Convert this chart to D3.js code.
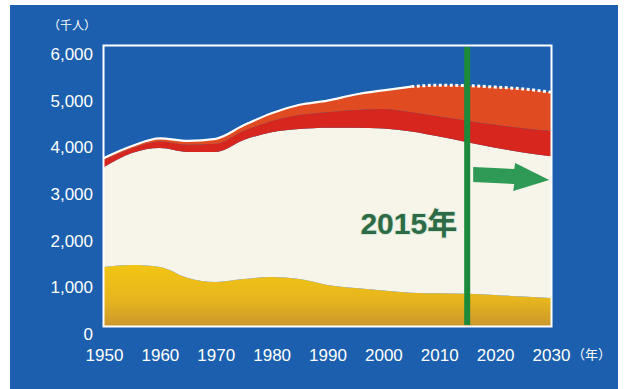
<!DOCTYPE html>
<html>
<head>
<meta charset="utf-8">
<script src="https://cdn.jsdelivr.net/npm/d3@7"></script>
<style>
  html, body { margin: 0; padding: 0; background: #ffffff; }
  svg { display: block; }
</style>
</head>
<body>
<svg id="chart" width="624" height="389"></svg>
<script>
// Population by age group (thousands), census + projection
const years = [1950, 1955, 1960, 1965, 1970, 1975, 1980, 1985, 1990, 1995, 2000, 2005, 2010, 2015, 2020, 2025, 2030];
const age0to14  = [1265, 1305, 1265, 1030, 945, 1005, 1050, 1005, 880, 815, 760, 715, 700, 690, 665, 630, 600];
const age15to64 = [2140, 2400, 2550, 2700, 2785, 2980, 3100, 3215, 3370, 3435, 3470, 3455, 3360, 3250, 3155, 3090, 3040];
const age65to74 = [150, 100, 140, 155, 175, 195, 240, 300, 330, 380, 420, 410, 430, 460, 490, 520, 540];
const age75plus = [45, 52, 65, 80, 105, 120, 170, 220, 250, 330, 400, 550, 670, 750, 810, 840, 830];
const projectionFrom = 2005;
const yTicks = [0, 1000, 2000, 3000, 4000, 5000, 6000];
const xTicks = [1950, 1960, 1970, 1980, 1990, 2000, 2010, 2020, 2030];
const markerYear = 2015;
const markerLabel = "2015年";
const yUnit = "（千人）";
const xUnit = "（年）";

const svg = d3.select("#chart");
const plot = { left: 104, right: 551, top: 46, bottom: 326 };

const x = d3.scaleLinear().domain([1950, 2030]).range([plot.left, plot.right]);
const y = d3.scaleLinear().domain([0, 6000]).range([plot.bottom, plot.top]);

// background panel
svg.append("rect").attr("x", 10).attr("y", 5).attr("width", 608).attr("height", 384).attr("fill", "#1b5fae");

const defs = svg.append("defs");
const gy = defs.append("linearGradient").attr("id", "yellowGrad").attr("x1", 0).attr("y1", 0).attr("x2", 0).attr("y2", 1);
gy.append("stop").attr("offset", "0%").attr("stop-color", "#f2c514");
gy.append("stop").attr("offset", "55%").attr("stop-color", "#e8b61d");
gy.append("stop").attr("offset", "100%").attr("stop-color", "#cc982d");
defs.append("clipPath").attr("id", "plotClip").append("rect")
  .attr("x", plot.left).attr("y", plot.top).attr("width", plot.right - plot.left).attr("height", plot.bottom - plot.top);

const rows = years.map((yr, i) => ({
  year: yr, a: age0to14[i], b: age15to64[i], c: age65to74[i], d: age75plus[i]
}));
const stack = d3.stack().keys(["a", "b", "c", "d"]);
const series = stack(rows);
const fills = { a: "url(#yellowGrad)", b: "#f7f4ea", c: "#d6261e", d: "#e04b22" };

const area = d3.area()
  .x(d => x(d.data.year))
  .y0(d => y(d[0]))
  .y1(d => y(d[1]))
  .curve(d3.curveMonotoneX);

const g = svg.append("g").attr("clip-path", "url(#plotClip)");
g.selectAll("path.band").data(series).join("path")
  .attr("class", "band")
  .attr("d", area)
  .attr("fill", s => fills[s.key]);

// outline along the total: solid for census years, dotted for projection
const totals = rows.map(r => ({ year: r.year, v: r.a + r.b + r.c + r.d }));
const line = d3.line().x(d => x(d.year)).y(d => y(d.v)).curve(d3.curveMonotoneX);
g.append("path")
  .attr("d", line(totals.filter(d => d.year <= projectionFrom)))
  .attr("fill", "none").attr("stroke", "#ffffff").attr("stroke-width", 2.2);
g.append("path")
  .attr("d", line(totals.filter(d => d.year >= projectionFrom)))
  .attr("fill", "none").attr("stroke", "#ffffff").attr("stroke-width", 3)
  .attr("stroke-dasharray", "3,2.5");

// plot frame
svg.append("rect")
  .attr("x", plot.left - 0.5).attr("y", plot.top - 0.5)
  .attr("width", plot.right - plot.left + 1).attr("height", plot.bottom - plot.top + 1)
  .attr("fill", "none").attr("stroke", "#ffffff").attr("stroke-width", 2);

// marker year line
svg.append("line")
  .attr("x1", x(markerYear)).attr("x2", x(markerYear))
  .attr("y1", plot.top + 1).attr("y2", plot.bottom - 1)
  .attr("stroke", "#1d8a3b").attr("stroke-width", 6);

// arrow pointing into the projection period
const ax = x(markerYear);
const arrowPts = [
  [ax + 6, 167], [ax + 47, 169], [ax + 48, 163], [ax + 82, 180],
  [ax + 46, 191], [ax + 47, 184], [ax + 6, 182]
];
svg.append("polygon")
  .attr("points", arrowPts.map(p => p.join(",")).join(" "))
  .attr("fill", "#2f9a55");

svg.append("text")
  .attr("x", ax - 10).attr("y", 234)
  .attr("text-anchor", "end")
  .attr("font-family", "'Liberation Sans', Arial, 'Noto Sans CJK JP', sans-serif")
  .attr("font-weight", "bold").attr("font-size", 30)
  .attr("fill", "#2d6b47").attr("stroke", "#d4e4cf").attr("stroke-width", 1.6)
  .attr("paint-order", "stroke")
  .text(markerLabel);

// axes
const font = "'Liberation Sans', Arial, sans-serif";
const yAxis = svg.append("g")
  .attr("transform", `translate(${plot.left},8)`)
  .call(d3.axisLeft(y).tickValues(yTicks).tickSize(0).tickPadding(11).tickFormat(d3.format(",")));
yAxis.select(".domain").remove();
yAxis.selectAll("text").attr("fill", "#ffffff").attr("font-size", 17).attr("font-family", font);

const xAxis = svg.append("g")
  .attr("transform", `translate(0,${plot.bottom})`)
  .call(d3.axisBottom(x).tickValues(xTicks).tickSize(0).tickPadding(23).tickFormat(d3.format("d")));
xAxis.select(".domain").remove();
xAxis.selectAll("text").attr("fill", "#ffffff").attr("font-size", 17).attr("font-family", font);

svg.append("text")
  .attr("x", 48).attr("y", 30)
  .attr("font-family", "'Noto Sans CJK JP', sans-serif").attr("font-size", 12)
  .attr("fill", "#ffffff").text(yUnit);
svg.append("text")
  .attr("x", 572).attr("y", 359)
  .attr("font-family", "'Noto Sans CJK JP', sans-serif").attr("font-size", 13)
  .attr("fill", "#ffffff").text(xUnit);
</script>
</body>
</html>
